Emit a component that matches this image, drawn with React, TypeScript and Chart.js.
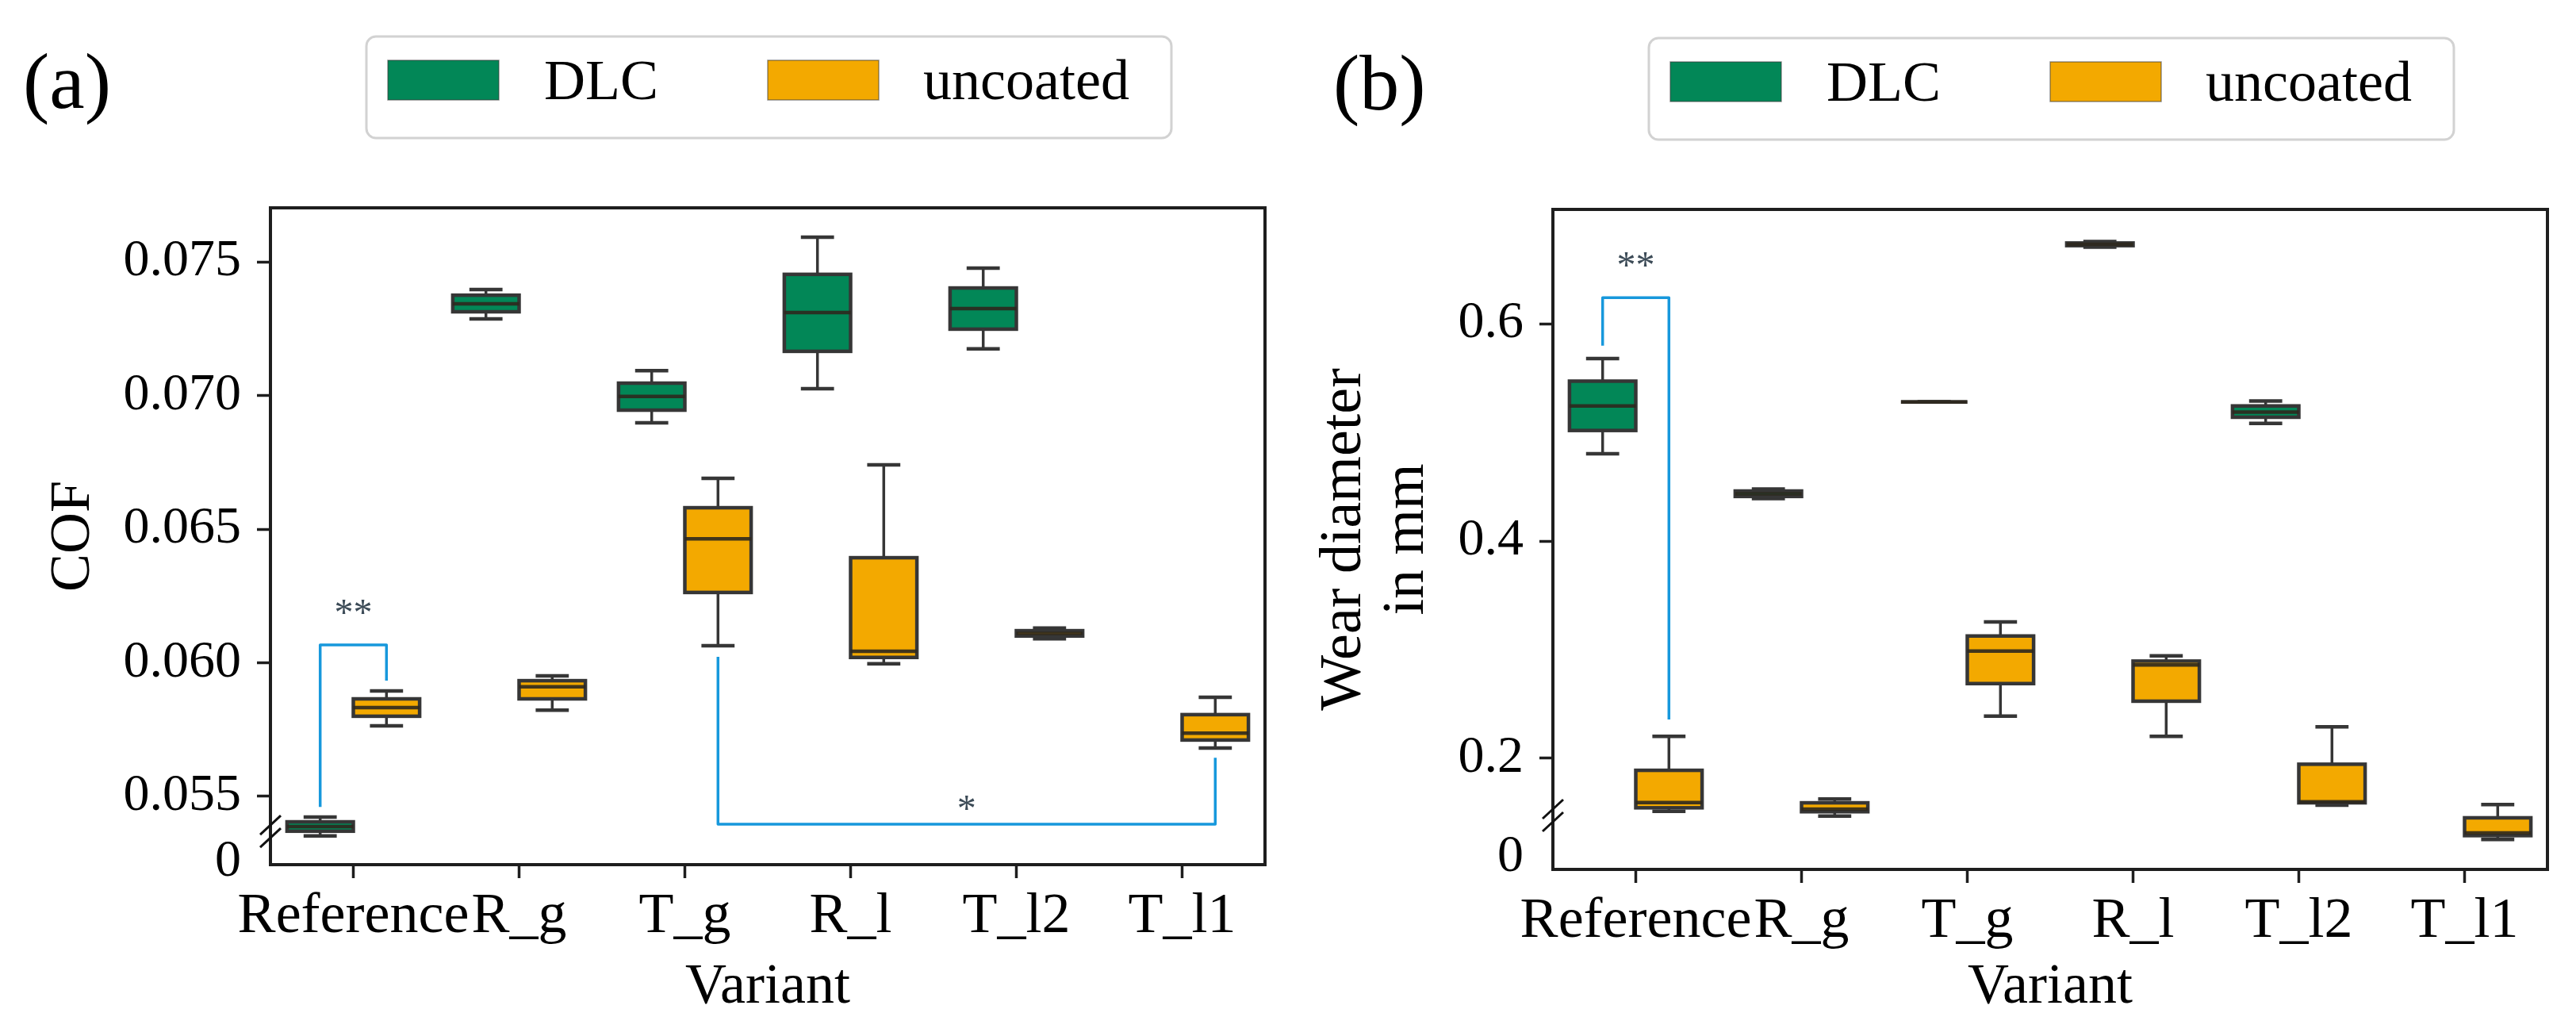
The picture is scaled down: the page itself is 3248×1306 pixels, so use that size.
import { useEffect, useRef } from 'react';
import { Chart, registerables } from 'chart.js';

Chart.register(...registerables);

// ---------------- data ----------------
const categories = ['Reference', 'R_g', 'T_g', 'R_l', 'T_l2', 'T_l1'];
const seriesNames = ['DLC', 'uncoated'];

// each entry: [lower whisker, Q1, median, Q3, upper whisker]; null = no box
const cofDLC = [
  [0.05352, 0.0537, 0.05387, 0.05405, 0.05423],
  [0.07286, 0.07313, 0.07343, 0.07375, 0.07396],
  [0.06898, 0.06945, 0.06996, 0.07046, 0.07093],
  [0.07025, 0.07165, 0.0731, 0.07453, 0.07592],
  [0.07174, 0.07248, 0.07325, 0.07402, 0.07476],
  null,
];
const cofUncoated = [
  [0.05764, 0.058, 0.05832, 0.05865, 0.05895],
  [0.05823, 0.05865, 0.0591, 0.05933, 0.05951],
  [0.06064, 0.06263, 0.06464, 0.0658, 0.0669],
  [0.05996, 0.0602, 0.06043, 0.06393, 0.0674],
  [0.0609, 0.061, 0.0611, 0.0612, 0.0613],
  [0.05681, 0.05711, 0.05737, 0.05806, 0.05871],
];
const wearDLC = [
  [0.4803, 0.5017, 0.5243, 0.5471, 0.5679],
  [0.439, 0.441, 0.4435, 0.446, 0.4478],
  [0.528, 0.528, 0.528, 0.528, 0.528],
  [0.6705, 0.6718, 0.673, 0.6742, 0.6755],
  [0.5083, 0.5139, 0.5187, 0.5243, 0.5288],
  null,
];
const wearUncoated = [
  [0.1513, 0.1545, 0.1593, 0.189, 0.2202],
  [0.1469, 0.1509, 0.1533, 0.1591, 0.1625],
  [0.2389, 0.2688, 0.2988, 0.3126, 0.3255],
  [0.2202, 0.2526, 0.2859, 0.2895, 0.2944],
  [0.1569, 0.1591, 0.16, 0.1946, 0.229],
  [0.1253, 0.1289, 0.1314, 0.1453, 0.1574],
];

const cofTicks = [0.05254, 0.055, 0.06, 0.065, 0.07, 0.075];
const cofTickLabels = ['0', '0.055', '0.060', '0.065', '0.070', '0.075'];
const wearTicks = [0.1088, 0.2, 0.4, 0.6];
const wearTickLabels = ['0', '0.2', '0.4', '0.6'];

// significance brackets: from/to = [category index, series index]
const cofBrackets = [
  { from: [0, 0], to: [0, 1], ends: [0.05461, 0.05933], bar: 0.06067, text: '**', textAt: 0.06206 },
  { from: [2, 1], to: [5, 1], ends: [0.06022, 0.05645], bar: 0.05396, text: '*', textAt: 0.05473 },
];
const wearBrackets = [
  { from: [0, 0], to: [0, 1], ends: [0.5798, 0.2358], bar: 0.6239, text: '**', textAt: 0.6584 },
];

// ---------------- styles ----------------
const W = 1624;
const H = 1306;
const FONT = "'Liberation Serif', 'Times New Roman', serif";
const GREEN = '#028757';
const ORANGE = '#f3a900';
const LINE = '#363636';
const AXIS = '#1e1e1e';
const BRACKET = '#1798dc';
const STAR = '#3c4b57';

type Panel = {
  letter: string;
  letterX: number;
  letterY: number;
  dlc: (number[] | null)[];
  unc: (number[] | null)[];
  ticks: number[];
  tickLabels: string[];
  min: number;
  max: number;
  yTitle: string | string[];
  yTitleSize: number;
  yTitleLH: number;
  yTitlePad: number;
  area: { left: number; right: number; top: number; bottom: number };
  breakAt: number;
  brackets: typeof cofBrackets;
};

const panels: Panel[] = [
  {
    letter: '(a)', letterX: 29, letterY: 136,
    dlc: cofDLC, unc: cofUncoated,
    ticks: cofTicks, tickLabels: cofTickLabels,
    min: 0.052448, max: 0.077018,
    yTitle: 'COF', yTitleSize: 72, yTitleLH: 1.2, yTitlePad: 50,
    area: { left: 341, right: 1595, top: 262, bottom: 1090 },
    breakAt: 0.05369,
    brackets: cofBrackets,
  },
  {
    letter: '(b)', letterX: 57, letterY: 138,
    dlc: wearDLC, unc: wearUncoated,
    ticks: wearTicks, tickLabels: wearTickLabels,
    min: 0.09781, max: 0.70511,
    yTitle: ['Wear diameter', 'in mm'], yTitleSize: 74, yTitleLH: 1.07, yTitlePad: 31.5,
    area: { left: 334, right: 1588, top: 264, bottom: 1096 },
    breakAt: 0.14745,
    brackets: wearBrackets,
  },
];

function line(ctx: CanvasRenderingContext2D, x1: number, y1: number, x2: number, y2: number) {
  ctx.beginPath();
  ctx.moveTo(x1, y1);
  ctx.lineTo(x2, y2);
  ctx.stroke();
}

function makeOverlay(p: Panel) {
  return {
    id: 'overlay',
    afterDatasetsDraw(chart: any) {
      const ctx: CanvasRenderingContext2D = chart.ctx;
      const y = chart.scales.y;
      const ca = chart.chartArea;
      const stats = [p.dlc, p.unc];
      ctx.save();
      // boxes, whiskers, caps, medians
      stats.forEach((series, di) => {
        const meta = chart.getDatasetMeta(di);
        series.forEach((s, i) => {
          if (!s) return;
          const el = meta.data[i];
          const x = el.x;
          const w = el.width;
          const [lo, q1, med, q3, hi] = s.map((v) => y.getPixelForValue(v));
          ctx.strokeStyle = LINE;
          ctx.lineCap = 'butt';
          ctx.lineWidth = 3.5;
          line(ctx, x, q3, x, hi);
          line(ctx, x, q1, x, lo);
          ctx.lineWidth = 4.5;
          line(ctx, x - w / 4, hi, x + w / 4, hi);
          line(ctx, x - w / 4, lo, x + w / 4, lo);
          ctx.strokeRect(x - w / 2, q3, w, q1 - q3);
          ctx.lineWidth = 4.5;
          ctx.strokeStyle = 'rgba(45,40,30,0.9)';
          line(ctx, x - w / 2, med, x + w / 2, med);
        });
      });
      // frame
      ctx.strokeStyle = AXIS;
      ctx.lineWidth = 4;
      ctx.strokeRect(ca.left, ca.top, ca.right - ca.left, ca.bottom - ca.top);
      // axis break marks
      const by = y.getPixelForValue(p.breakAt);
      ctx.lineWidth = 3;
      ctx.strokeStyle = '#111';
      [-8, 8].forEach((d) => line(ctx, ca.left - 13, by + d + 12, ca.left + 13, by + d - 12));
      // significance brackets
      p.brackets.forEach((b) => {
        const x1 = chart.getDatasetMeta(b.from[1]).data[b.from[0]].x;
        const x2 = chart.getDatasetMeta(b.to[1]).data[b.to[0]].x;
        const yb = y.getPixelForValue(b.bar);
        ctx.strokeStyle = BRACKET;
        ctx.lineWidth = 3.5;
        ctx.lineJoin = 'round';
        ctx.beginPath();
        ctx.moveTo(x1, y.getPixelForValue(b.ends[0]));
        ctx.lineTo(x1, yb);
        ctx.lineTo(x2, yb);
        ctx.lineTo(x2, y.getPixelForValue(b.ends[1]));
        ctx.stroke();
        ctx.fillStyle = STAR;
        ctx.font = `48px ${FONT}`;
        ctx.textAlign = 'center';
        ctx.textBaseline = 'alphabetic';
        ctx.fillText(b.text, (x1 + x2) / 2, y.getPixelForValue(b.textAt) + 22);
      });
      ctx.restore();
    },
    afterDraw(chart: any) {
      const ctx: CanvasRenderingContext2D = chart.ctx;
      const L = chart.chartArea.left;
      const T = chart.chartArea.top;
      ctx.save();
      // legend frame
      const fx = L + 121, fy = T - 216, fw = 1015, fh = 128, r = 12;
      ctx.beginPath();
      ctx.moveTo(fx + r, fy);
      ctx.lineTo(fx + fw - r, fy);
      ctx.arcTo(fx + fw, fy, fx + fw, fy + r, r);
      ctx.lineTo(fx + fw, fy + fh - r);
      ctx.arcTo(fx + fw, fy + fh, fx + fw - r, fy + fh, r);
      ctx.lineTo(fx + r, fy + fh);
      ctx.arcTo(fx, fy + fh, fx, fy + fh - r, r);
      ctx.lineTo(fx, fy + r);
      ctx.arcTo(fx, fy, fx + r, fy, r);
      ctx.closePath();
      ctx.fillStyle = '#ffffff';
      ctx.fill();
      ctx.strokeStyle = '#d2d2d2';
      ctx.lineWidth = 3;
      ctx.stroke();
      // legend items
      const patchX = [L + 148, L + 627];
      const textX = [L + 345, L + 823];
      chart.data.datasets.forEach((ds: any, i: number) => {
        ctx.fillStyle = ds.backgroundColor;
        ctx.fillRect(patchX[i], T - 186, 140, 50);
        ctx.strokeStyle = 'rgba(60,60,60,0.55)';
        ctx.lineWidth = 1.5;
        ctx.strokeRect(patchX[i], T - 186, 140, 50);
        ctx.fillStyle = '#000';
        ctx.font = `72px ${FONT}`;
        ctx.textAlign = 'left';
        ctx.textBaseline = 'alphabetic';
        ctx.fillText(ds.label, textX[i], T - 137);
      });
      // panel letter
      ctx.font = `100px ${FONT}`;
      ctx.fillStyle = '#000';
      ctx.textAlign = 'left';
      ctx.fillText(p.letter, p.letterX, p.letterY);
      ctx.restore();
    },
  };
}

function BoxPanel({ p, left }: { p: Panel; left: number }) {
  const ref = useRef<HTMLCanvasElement>(null);
  useEffect(() => {
    Chart.defaults.font.family = FONT;
    Chart.defaults.color = '#000';
    const toBar = (arr: (number[] | null)[]) => arr.map((s) => (s ? [s[1], s[3]] : null));
    const chart = new Chart(ref.current as HTMLCanvasElement, {
      type: 'bar',
      data: {
        labels: categories,
        datasets: [
          { label: seriesNames[0], data: toBar(p.dlc) as any, backgroundColor: GREEN, borderWidth: 0, categoryPercentage: 0.8, barPercentage: 1 },
          { label: seriesNames[1], data: toBar(p.unc) as any, backgroundColor: ORANGE, borderWidth: 0, categoryPercentage: 0.8, barPercentage: 1 },
        ],
      },
      options: {
        responsive: false,
        animation: false,
        devicePixelRatio: 1,
        layout: { padding: { top: p.area.top, right: W - p.area.right, bottom: 0, left: 0 } },
        plugins: { legend: { display: false }, tooltip: { enabled: false } },
        scales: {
          x: {
            type: 'category',
            offset: true,
            grid: { offset: false, display: true, drawOnChartArea: false, drawTicks: true, tickLength: 17, tickWidth: 3.5, tickColor: AXIS },
            border: { display: false },
            ticks: { font: { size: 72, family: FONT }, color: '#000', padding: 6, minRotation: 0, maxRotation: 0, autoSkip: false },
            title: { display: true, text: 'Variant', color: '#000', font: { size: 72, family: FONT, lineHeight: 1.2 }, padding: { top: 0, bottom: 18 } },
            afterFit: (s: any) => { s.height = H - p.area.bottom; },
          },
          y: {
            type: 'linear',
            min: p.min,
            max: p.max,
            afterBuildTicks: (s: any) => { s.ticks = p.ticks.map((v) => ({ value: v })); },
            ticks: {
              callback: (v: any) => {
                const i = p.ticks.indexOf(Number(v));
                return i >= 0 ? p.tickLabels[i] : '';
              },
              font: { size: 66, family: FONT },
              color: '#000',
              padding: 20,
            },
            grid: {
              display: true, drawOnChartArea: false, drawTicks: true, tickLength: 17, tickWidth: 3.5,
              tickColor: (c: any) => (c.index === 0 ? 'rgba(0,0,0,0)' : AXIS),
            },
            border: { display: false },
            title: {
              display: true, text: p.yTitle as any, color: '#000',
              font: { size: p.yTitleSize, family: FONT, lineHeight: p.yTitleLH },
              padding: { top: p.yTitlePad, bottom: 0 },
            },
            afterFit: (s: any) => { s.width = p.area.left; },
          },
        },
      } as any,
      plugins: [makeOverlay(p)],
    });
    return () => chart.destroy();
  }, []);
  return (
    <canvas
      ref={ref}
      width={W}
      height={H}
      style={{ position: 'absolute', left, top: 0, width: W, height: H }}
    />
  );
}

export default function App() {
  return (
    <div style={{ position: 'absolute', left: 0, top: 0, width: 3248, height: 1306, background: '#fff', overflow: 'hidden' }}>
      <BoxPanel p={panels[0]} left={0} />
      <BoxPanel p={panels[1]} left={1624} />
    </div>
  );
}
